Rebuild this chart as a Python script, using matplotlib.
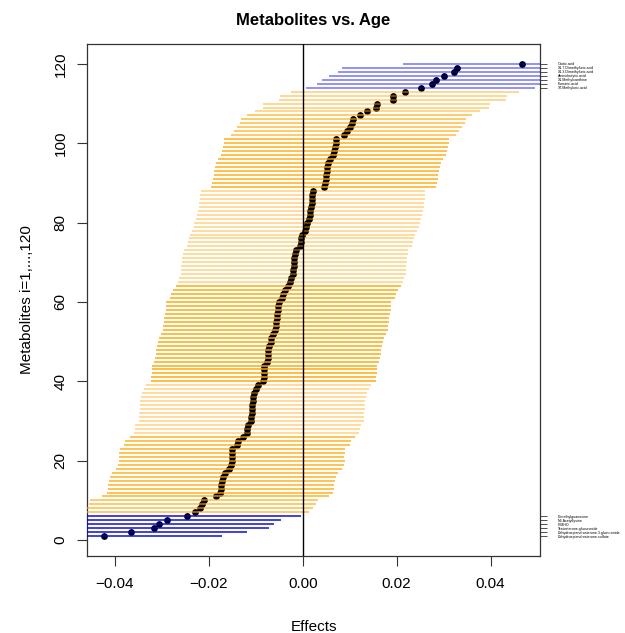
import numpy as np
import matplotlib
matplotlib.use('Agg')
import matplotlib.pyplot as plt

plt.rcParams['font.family'] = ['Liberation Sans', 'DejaVu Sans']

# sorted effect estimates, metabolite 1..120
effects = [
	-0.04227, -0.03652, -0.03163, -0.03050, -0.02894, -0.02461, -0.02298, -0.02191, -0.02135, -0.02099,
	-0.01851, -0.01759, -0.01745, -0.01730, -0.01709, -0.01688, -0.01660, -0.01567, -0.01525, -0.01511,
	-0.01508, -0.01504, -0.01496, -0.01397, -0.01376, -0.01277, -0.01191, -0.01177, -0.01163, -0.01099,
	-0.01092, -0.01085, -0.01078, -0.01071, -0.01064, -0.01050, -0.01035, -0.00993, -0.00950, -0.00837,
	-0.00830, -0.00823, -0.00820, -0.00816, -0.00766, -0.00745, -0.00738, -0.00730, -0.00716, -0.00681,
	-0.00667, -0.00624, -0.00582, -0.00574, -0.00567, -0.00553, -0.00539, -0.00525, -0.00518, -0.00511,
	-0.00440, -0.00411, -0.00376, -0.00305, -0.00270, -0.00241, -0.00206, -0.00199, -0.00191, -0.00184,
	-0.00177, -0.00156, -0.00142, -0.00064, -0.00043, -0.00035, -0.00007, 0.00043, 0.00071, 0.00092,
	0.00128, 0.00149, 0.00156, 0.00184, 0.00191, 0.00199, 0.00206, 0.00210, 0.00447, 0.00468,
	0.00489, 0.00496, 0.00511, 0.00525, 0.00539, 0.00582, 0.00652, 0.00667, 0.00695, 0.00709,
	0.00712, 0.00879, 0.00936, 0.01000, 0.01057, 0.01078, 0.01213, 0.01376, 0.01567, 0.01574,
	0.01915, 0.01929, 0.02177, 0.02511, 0.02752, 0.02844, 0.03007, 0.03220, 0.03291, 0.04674,
]

# half width of the confidence interval for each metabolite
ci_half = [
	0.02518, 0.02475, 0.02447, 0.02447, 0.02440, 0.02426, 0.02433, 0.02411, 0.02418, 0.02418,
	0.02411, 0.02404, 0.02404, 0.02404, 0.02404, 0.02404, 0.02404, 0.02404, 0.02404, 0.02404,
	0.02396, 0.02396, 0.02396, 0.02396, 0.02400, 0.02396, 0.02396, 0.02396, 0.02396, 0.02394,
	0.02394, 0.02394, 0.02394, 0.02394, 0.02394, 0.02394, 0.02394, 0.02394, 0.02394, 0.02394,
	0.02394, 0.02394, 0.02394, 0.02394, 0.02394, 0.02394, 0.02394, 0.02394, 0.02394, 0.02394,
	0.02394, 0.02394, 0.02394, 0.02394, 0.02394, 0.02394, 0.02394, 0.02394, 0.02394, 0.02394,
	0.02394, 0.02394, 0.02394, 0.02394, 0.02394, 0.02394, 0.02394, 0.02394, 0.02394, 0.02394,
	0.02394, 0.02394, 0.02384, 0.02394, 0.02394, 0.02394, 0.02394, 0.02394, 0.02394, 0.02397,
	0.02394, 0.02394, 0.02394, 0.02394, 0.02394, 0.02394, 0.02394, 0.02384, 0.02394, 0.02394,
	0.02394, 0.02394, 0.02394, 0.02394, 0.02394, 0.02394, 0.02394, 0.02394, 0.02394, 0.02394,
	0.02394, 0.02394, 0.02394, 0.02394, 0.02394, 0.02394, 0.02394, 0.02397, 0.02408, 0.02411,
	0.02411, 0.02411, 0.02422, 0.02433, 0.02440, 0.02440, 0.02447, 0.02461, 0.02461, 0.02532,
]

# significant metabolites (index 1-based) and their names
sig_low = [1, 2, 3, 4, 5, 6]
sig_low_names = ['Dehydroepiandrosterone.sulfate', 'Dehydroepiandrosterone.3.glucuronide',
	'Testosterone.glucuronide', 'PIMHO', 'N6.Acetyllysine', 'Dimethylguanosine']
sig_high = [114, 115, 116, 117, 118, 119, 120]
sig_high_names = ['X7.Methyluric.acid', 'Fumaric.acid', 'X1.Methylxanthine', 'Aminobutyric.acid',
	'X1.3.Dimethyluric.acid', 'X1.7.Dimethyluric.acid', 'Orotic.acid']

# shading of the non significant intervals (index ranges, alpha)
shade = [(7, 10, 0.75), (11, 26, 0.85), (27, 39, 0.5), (40, 64, 0.95),
	(65, 88, 0.5), (89, 101, 0.9), (102, 107, 0.75), (108, 113, 0.55)]

n = len(effects)
idx = np.arange(1, n + 1)
eff = np.array(effects)
half = np.array(ci_half)

colors = []
for i in idx:
	if i in sig_low:
		colors.append((0.0, 0.0, 0.85, 0.95))
	elif i in sig_high:
		colors.append((0.0, 0.0, 1.0, 0.55))
	else:
		a = 0.8
		for s, e, al in shade:
			if s <= i <= e:
				a = al
		colors.append((1.0, 0.647, 0.0, a))

fig = plt.figure(figsize=(6.25, 6.33), dpi=100)
ax = fig.add_axes([0.1392, 0.1216, 0.7248, 0.8089])

# points first, the interval lines are drawn over them
ax.scatter(eff, idx, s=24, color='black', zorder=2, linewidths=0)
ax.hlines(idx, eff - half, eff + half, colors=colors, linewidth=1.1, zorder=3)
ax.axvline(0, color='black', linewidth=1.0, zorder=4)

ax.set_xlim(-0.0459, 0.0505)
ax.set_ylim(-4.0, 125.0)
ax.set_xticks([-0.04, -0.02, 0.0, 0.02, 0.04])
ax.set_xticklabels(['\u22120.04', '\u22120.02', '0.00', '0.02', '0.04'])
ax.set_yticks([0, 20, 40, 60, 80, 100, 120])
ax.tick_params(axis='both', labelsize=11, length=7, width=0.8, direction='out', color='#333333')
ax.tick_params(axis='x', pad=8)
ax.tick_params(axis='y', pad=7)
for lab in ax.get_yticklabels():
	lab.set_rotation(90)
	lab.set_va('center')
for sp in ax.spines.values():
	sp.set_linewidth(0.9)
	sp.set_color('#333333')

ax.set_title('Metabolites vs. Age', fontsize=12, fontweight='bold', pad=14)
ax.set_xlabel('Effects', fontsize=11, labelpad=21)
ax.set_ylabel('Metabolites i=1,...,120', fontsize=11, labelpad=14)

# names of significant metabolites on the right side
ax2 = ax.twinx()
ax2.set_ylim(ax.get_ylim())
ax2.set_yticks(sig_low + sig_high)
ax2.set_yticklabels(sig_low_names + sig_high_names)
ax2.tick_params(axis='y', labelsize=2.6, length=5, width=0.6, pad=8, color='#333333')
for sp in ax2.spines.values():
	sp.set_visible(False)

fig.savefig('out.png', dpi=100)
